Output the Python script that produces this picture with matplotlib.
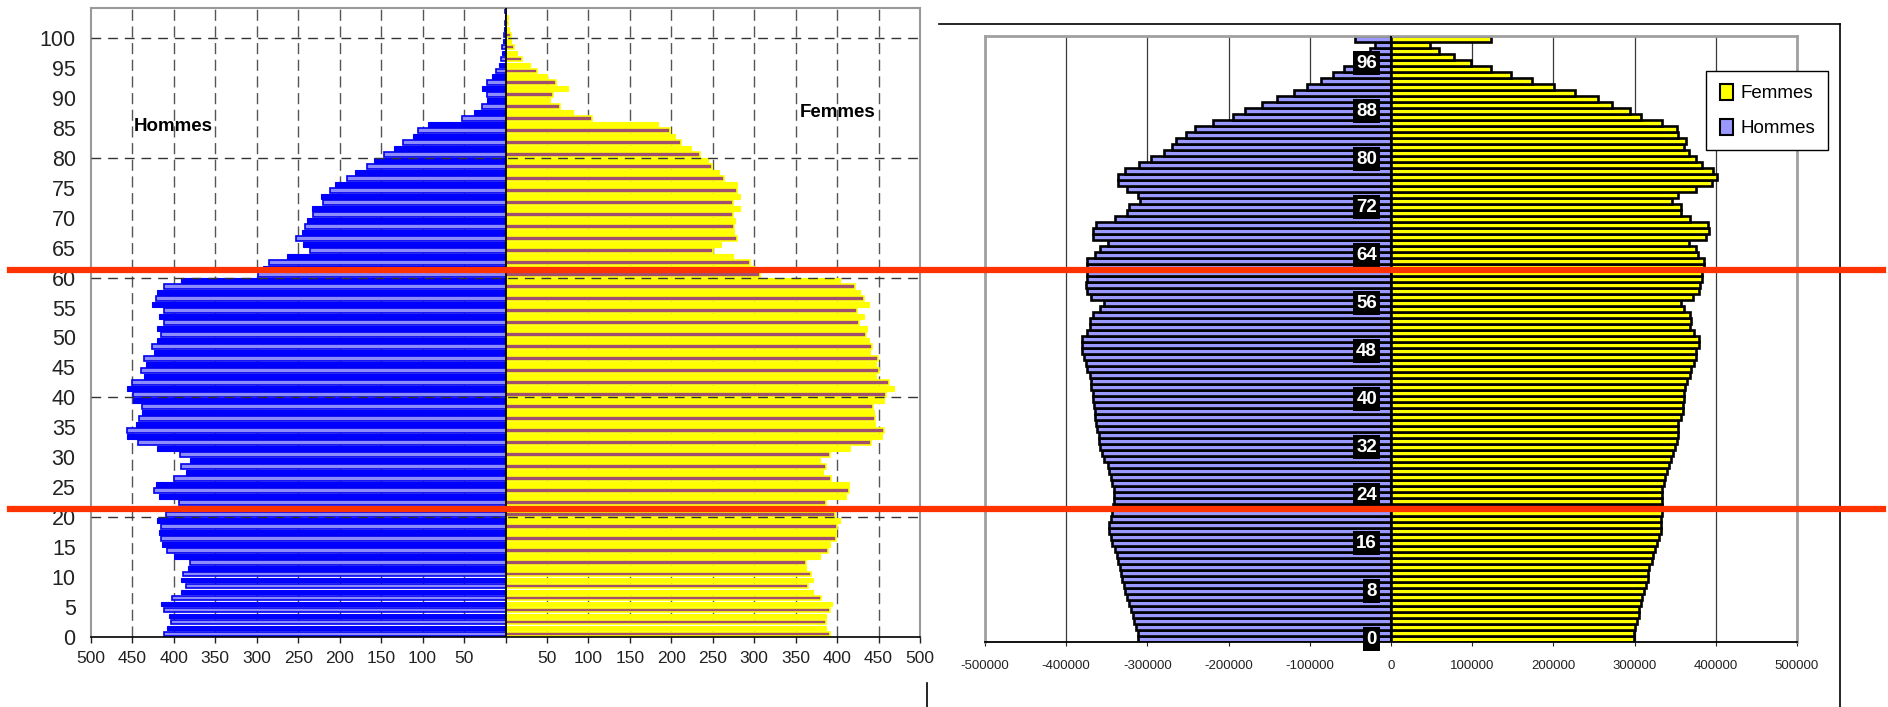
import numpy as np
import matplotlib.pyplot as plt
from matplotlib.patches import Patch
from matplotlib.lines import Line2D
from matplotlib.transforms import blended_transform_factory

plt.rcParams['font.family'] = ['Liberation Sans', 'DejaVu Sans']
plt.rcParams['axes.unicode_minus'] = False

# pyramide de gauche : effectifs en milliers, âges 0 à 104
ages_g = np.arange(105)
hommes_g = [412, 408, 404, 406, 412, 416, 402, 391, 386, 392,
            389, 383, 381, 400, 408, 414, 416, 418, 416, 420,
            410, 405, 394, 418, 424, 422, 400, 386, 392, 381,
            393, 420, 443, 457, 457, 446, 442, 438, 438, 449,
            449, 457, 451, 436, 440, 434, 436, 424, 426, 420,
            416, 420, 412, 418, 412, 426, 422, 420, 412, 391,
            299, 292, 285, 263, 236, 244, 253, 246, 242, 240,
            232, 234, 220, 222, 212, 206, 191, 181, 167, 159,
            147, 134, 124, 112, 106, 94, 53, 38, 28, 22,
            22, 28, 22, 16, 12, 8, 6, 4, 4, 3,
            2, 1.5, 1, 1, 1]
femmes_g = [391, 387, 387, 387, 391, 394, 381, 371, 365, 371,
            369, 363, 363, 379, 389, 392, 399, 399, 400, 404,
            398, 392, 387, 411, 414, 414, 393, 383, 387, 379,
            391, 415, 441, 454, 457, 446, 446, 444, 443, 457,
            459, 469, 463, 447, 451, 447, 449, 440, 442, 438,
            435, 436, 426, 432, 424, 438, 432, 428, 422, 403,
            307, 300, 295, 275, 250, 260, 279, 276, 276, 277,
            275, 283, 275, 283, 279, 279, 264, 257, 249, 244,
            235, 224, 212, 204, 198, 184, 104, 81, 66, 54,
            57, 75, 61, 50, 38, 30, 20, 14, 10, 7,
            7, 4, 3, 3, 0.5]

# pyramide de droite : effectifs en milliers, âges 0 à 100
ages_d = np.arange(101)
hommes_d = [312, 312, 314, 316, 318, 320, 323, 325, 327, 329,
            331, 332, 334, 336, 338, 340, 344, 345, 347, 347,
            345, 343, 342, 341, 341, 341, 343, 345, 347, 349,
            354, 356, 358, 359, 360, 362, 363, 365, 365, 366,
            367, 367, 369, 369, 371, 374, 376, 378, 380, 381,
            381, 374, 371, 371, 367, 358, 354, 369, 374, 376,
            374, 374, 375, 374, 365, 358, 349, 367, 367, 363,
            340, 325, 323, 309, 312, 325, 336, 336, 327, 310,
            296, 280, 270, 265, 252, 241, 219, 195, 180, 159,
            140, 119, 104, 86, 71, 58, 44, 34, 26, 20,
            44]
femmes_d = [299, 299, 301, 303, 306, 306, 308, 309, 312, 314,
            316, 316, 318, 321, 323, 325, 327, 330, 332, 332,
            332, 334, 334, 334, 334, 334, 336, 338, 340, 342,
            345, 347, 350, 352, 353, 354, 354, 357, 359, 359,
            361, 361, 362, 365, 368, 370, 373, 375, 376, 379,
            379, 373, 368, 370, 368, 361, 357, 372, 379, 381,
            383, 383, 385, 386, 378, 376, 367, 388, 392, 390,
            368, 357, 357, 346, 354, 375, 395, 401, 397, 383,
            376, 367, 361, 363, 354, 352, 334, 308, 294, 272,
            255, 226, 201, 174, 148, 123, 99, 78, 59, 48,
            123]

# âges repérés par les traits rouges
coupures = [61.3, 21.3]

W, H = 1888, 707
fig = plt.figure(figsize=(W / 100, H / 100), dpi=100)


def cadre(x0, y0, x1, y1):
    return [x0 / W, 1 - y1 / H, (x1 - x0) / W, (y1 - y0) / H]


etroite = ['Liberation Sans Narrow', 'Liberation Sans', 'DejaVu Sans']

# ---------- pyramide de gauche ----------
ax1 = fig.add_axes(cadre(91, 8, 920, 637))
hg = np.array(hommes_g, dtype=float)
fg = np.array(femmes_g, dtype=float)
pair = ages_g % 2 == 0
y = ages_g + 0.5
ax1.barh(y[~pair], -hg[~pair], height=0.8, color='#0000ff',
         edgecolor='#0000ff', linewidth=0.8, zorder=2)
ax1.barh(y[pair], -hg[pair], height=0.8, color='#8c8cff',
         edgecolor='#0000f0', linewidth=1.2, zorder=2)
ax1.barh(y[~pair], fg[~pair], height=0.8, color='#ffff00',
         edgecolor='#ffff00', linewidth=0.8, zorder=2)
ax1.barh(y[pair], fg[pair], height=0.8, color='#a0506e',
         edgecolor='#ffff00', linewidth=1.2, zorder=2)

ax1.set_xlim(-500, 500)
ax1.set_ylim(0, 105)
xt = np.arange(-500, 501, 50)
ax1.set_xticks(xt)
ax1.set_xticklabels(['' if v == 0 else str(abs(v)) for v in xt])
ax1.set_yticks(np.arange(0, 101, 5))
ax1.tick_params(axis='x', direction='out', length=4, width=1, pad=6,
                labelsize=12.5, colors='#222222')
ax1.tick_params(axis='y', length=0, pad=11, labelsize=15.5, colors='#222222')
for v in xt:
    if abs(v) not in (0, 500):
        ax1.axvline(v, color='#555555', lw=1, dashes=(8, 4), zorder=1)
for a in range(20, 101, 20):
    ax1.axhline(a, color='#333333', lw=1, dashes=(7, 5), zorder=3)
ax1.axvline(0, color='black', lw=1.3, zorder=3)
for s in ['left', 'top', 'right']:
    ax1.spines[s].set_color('#999999')
    ax1.spines[s].set_linewidth(1.5)
ax1.spines['bottom'].set_color('black')
ax1.spines['bottom'].set_linewidth(1.2)
ax1.text(-448, 85.3, 'Hommes', fontsize=13.5, fontweight='bold',
         ha='left', va='center')
ax1.text(355, 87.5, 'Femmes', fontsize=13.5, fontweight='bold',
         ha='left', va='center')

# ---------- pyramide de droite ----------
ax2 = fig.add_axes(cadre(985, 36, 1797, 642))
hd = np.array(hommes_d, dtype=float) * 1000
fd = np.array(femmes_d, dtype=float) * 1000
ax2.barh(ages_d, -hd, height=0.95, color='#9999ff', edgecolor='black',
         linewidth=1.9, zorder=2)
ax2.barh(ages_d, fd, height=0.95, color='#ffff00', edgecolor='black',
         linewidth=1.9, zorder=2)
ax2.set_xlim(-500000, 500000)
ax2.set_ylim(-0.5, 100.5)
xt2 = np.arange(-500000, 500001, 100000)
ax2.set_xticks(xt2)
ax2.set_xticklabels([str(v) for v in xt2])
ax2.set_yticks([])
ax2.tick_params(axis='x', direction='out', length=3, pad=10,
                labelsize=9.5, colors='#222222')
ax2.grid(axis='x', color='#3a3a3a', lw=0.9)
ax2.set_axisbelow(True)
ax2.axvline(0, color='black', lw=1.5, zorder=3)
for s in ['left', 'top', 'right']:
    ax2.spines[s].set_color('#a0a0a0')
    ax2.spines[s].set_linewidth(2)
ax2.spines['bottom'].set_color('black')
ax2.spines['bottom'].set_linewidth(1.3)

tr = blended_transform_factory(ax2.transAxes, ax2.transData)
for a in range(0, 97, 8):
    ax2.text(0.4828, a, str(a), transform=tr, ha='right', va='center',
             color='white', fontweight='bold', fontsize=13.5, family=etroite,
             zorder=5,
             bbox=dict(boxstyle='square,pad=0.17', fc='black', ec='none'))

ax2.legend(handles=[Patch(fc='#ffff00', ec='black', lw=1.5, label='Femmes'),
                    Patch(fc='#9999ff', ec='black', lw=1.5, label='Hommes')],
           loc='upper left', bbox_to_anchor=(0.877, 0.958), frameon=True,
           fancybox=False, edgecolor='black', framealpha=1,
           prop=dict(family=etroite, size=13.5), handlelength=0.7,
           handleheight=0.9, labelspacing=0.9, borderpad=0.7,
           handletextpad=0.4)

# cadre de la zone du graphique de droite
fig.add_artist(Line2D([939 / W, 1840 / W], [1 - 24 / H, 1 - 24 / H],
                      color='black', lw=1.2))
fig.add_artist(Line2D([1840 / W, 1840 / W], [1 - 24 / H, 0],
                      color='black', lw=1.2))
fig.add_artist(Line2D([927 / W, 927 / W], [1 - 683 / H, 0],
                      color='black', lw=1.2))

# traits rouges horizontaux sur les deux pyramides
inv = fig.transFigure.inverted()
for a in coupures:
    yf = inv.transform(ax1.transData.transform((0, a)))[1]
    fig.add_artist(Line2D([10 / W, 1883 / W], [yf, yf], color='#ff3300',
                          lw=4.5, zorder=10))

fig.savefig('out.png', dpi=100)
